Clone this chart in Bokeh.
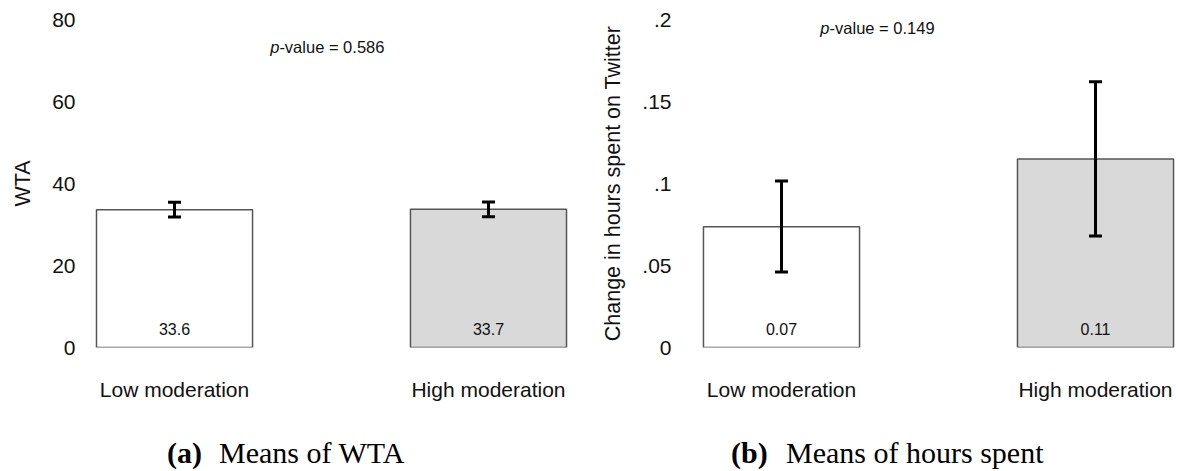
from bokeh.plotting import figure
from bokeh.layouts import row, column
from bokeh.models import (ColumnDataSource, Whisker, TeeHead, Label, LabelSet,
                          FixedTicker, CustomJSTickFormatter, Range1d, Div)
from bokeh.core.properties import value
from bokeh.embed import file_html
from bokeh.resources import INLINE

# ---------------- data ----------------
categories = ["Low moderation", "High moderation"]
positions = [1, 2]
bar_fills = ["#ffffff", "#d9d9d9"]

wta_mean = [33.6, 33.7]
wta_lower = [31.8, 31.9]
wta_upper = [35.4, 35.5]
wta_value_labels = ["33.6", "33.7"]
wta_pvalue = "0.586"
wta_ticks = [0, 20, 40, 60, 80]
wta_tick_labels = ["0", "20", "40", "60", "80"]

hours_mean = [0.0737, 0.115]
hours_lower = [0.046, 0.068]
hours_upper = [0.1015, 0.162]
hours_value_labels = ["0.07", "0.11"]
hours_pvalue = "0.149"
hours_ticks = [0, 0.05, 0.1, 0.15, 0.2]
hours_tick_labels = ["0", ".05", ".1", ".15", ".2"]

SANS = "Liberation Sans"
SERIF = "Liberation Serif"
TXT = "#111111"
FIG_H = 434
CAP_H = 471 - FIG_H


def panel(means, lower, upper, value_labels, ticks, tick_labels, ylabel,
          pvalue, pv_x, pv_y, left_border, x_start, x_end):
    y_end = ticks[-1]
    p = figure(width=589, height=FIG_H, output_backend="svg", toolbar_location=None,
               x_range=Range1d(x_start, x_end), y_range=Range1d(0, y_end),
               min_border_left=left_border, min_border_right=0,
               min_border_top=19, min_border_bottom=FIG_H - 347)
    p.outline_line_color = None
    p.xgrid.grid_line_color = None
    p.ygrid.grid_line_color = None
    p.background_fill_color = "white"
    p.border_fill_color = "white"

    src = ColumnDataSource(dict(x=positions, top=means, lower=lower, upper=upper,
                                fill=bar_fills, lab=value_labels,
                                zero=[0] * len(means)))
    p.vbar(x="x", top="top", bottom=0, width=0.497, source=src,
           fill_color="fill", line_color="#555555", line_width=1.5)

    w = Whisker(source=src, base="x", upper="upper", lower="lower",
                dimension="height", line_color="black", line_width=3,
                level="annotation",
                upper_head=TeeHead(size=13, line_width=3, line_color="black"),
                lower_head=TeeHead(size=13, line_width=3, line_color="black"))
    p.add_layout(w)

    p.add_layout(LabelSet(x="x", y="zero", text="lab", source=src, y_offset=13,
                          text_align="center", text_baseline="alphabetic",
                          text_font=value(SANS), text_font_size="16px",
                          text_color=TXT))

    # y axis
    ya = p.yaxis[0]
    ya.ticker = FixedTicker(ticks=ticks)
    ya.formatter = CustomJSTickFormatter(
        args=dict(tvals=ticks, tlabs=tick_labels),
        code="const i = tvals.findIndex(t => Math.abs(t - tick) < 1e-9); return i >= 0 ? tlabs[i] : '';")
    ya.axis_line_color = None
    ya.major_tick_line_color = None
    ya.minor_tick_line_color = None
    ya.major_tick_out = 0
    ya.major_label_standoff = 11
    ya.major_label_text_font = SANS
    ya.major_label_text_font_size = "21px"
    ya.major_label_text_color = TXT
    ya.axis_label = ylabel
    ya.axis_label_text_font = SANS
    ya.axis_label_text_font_size = "21.5px"
    ya.axis_label_text_font_style = "normal"
    ya.axis_label_text_color = TXT
    ya.axis_label_standoff = 14

    # x axis
    xa = p.xaxis[0]
    xa.ticker = FixedTicker(ticks=positions)
    xa.major_label_overrides = {pos: cat for pos, cat in zip(positions, categories)}
    xa.axis_line_color = None
    xa.major_tick_line_color = None
    xa.minor_tick_line_color = None
    xa.major_tick_out = 0
    xa.major_label_standoff = 30
    xa.major_label_text_font = SANS
    xa.major_label_text_font_size = "21px"
    xa.major_label_text_color = TXT

    # p-value
    p.add_layout(Label(x=pv_x, y=pv_y, text="p", text_align="right",
                       text_baseline="alphabetic", text_font=SANS,
                       text_font_style="italic", text_font_size="16.5px",
                       text_color=TXT))
    p.add_layout(Label(x=pv_x, y=pv_y, text="-value = " + pvalue, text_align="left",
                       text_baseline="alphabetic", text_font=SANS,
                       text_font_size="16.5px", text_color=TXT))
    return p


def caption(tag, text, left, tag_w):
    html = (f'<div style="margin:0;padding:0;margin-left:{left}px;font-family:\'{SERIF}\';'
            f'font-size:30px;line-height:{CAP_H}px;white-space:nowrap;color:black;">'
            f'<span style="display:inline-block;width:{tag_w}px;font-weight:bold;">{tag}</span>'
            f'{text}</div>')
    return Div(text=html, width=589, height=CAP_H, margin=0)


p1 = panel(wta_mean, wta_lower, wta_upper, wta_value_labels, wta_ticks,
           wta_tick_labels, "WTA", wta_pvalue, 1.334, 73.4, 86, 0.7197, 2.3217)
p2 = panel(hours_mean, hours_lower, hours_upper, hours_value_labels, hours_ticks,
           hours_tick_labels, "Change in hours spent on Twitter", hours_pvalue,
           1.153, 0.195, 93, 0.6847, 2.2643)

c1 = caption("(a)", "Means of WTA", 167, 52)
c2 = caption("(b)", "Means of hours spent", 142, 55)

layout = column(row(p1, p2, spacing=0), row(c1, c2, spacing=0), spacing=0)
open("out.html", "w").write(file_html(layout, INLINE))
